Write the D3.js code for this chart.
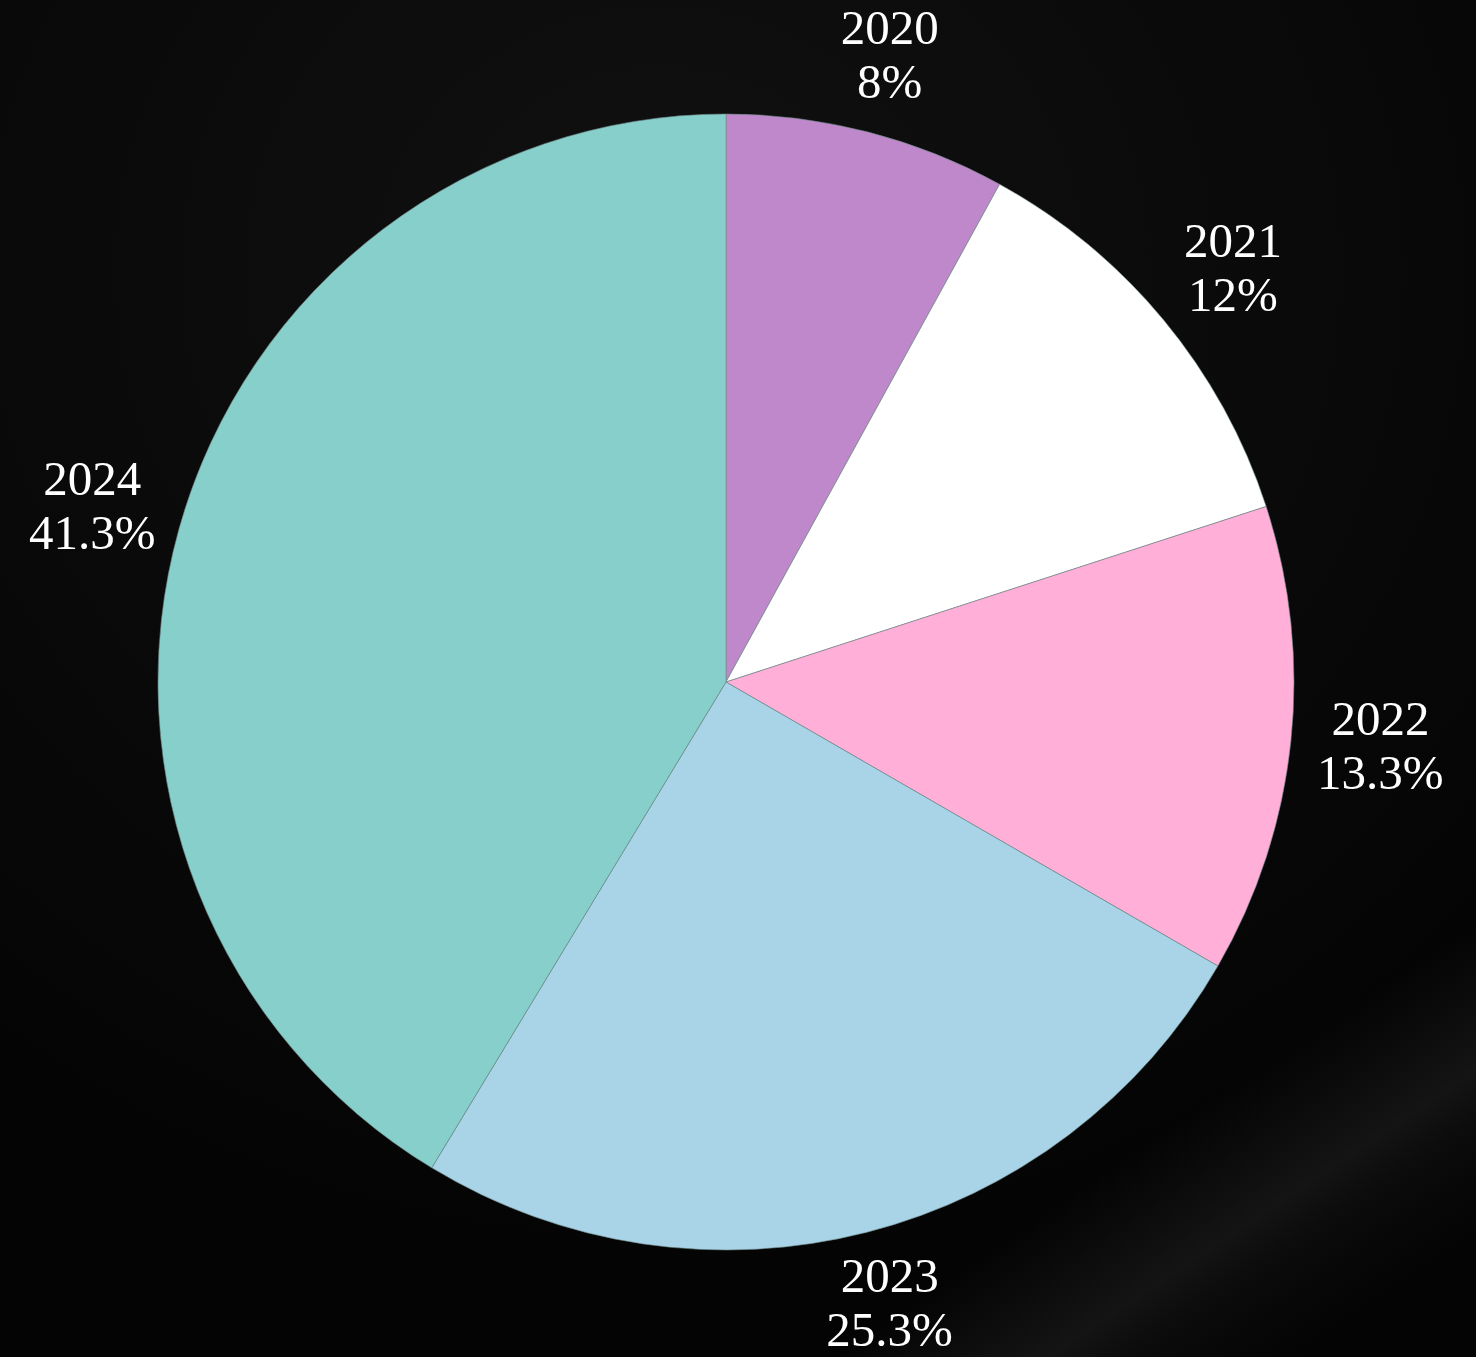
<!DOCTYPE html>
<html>
<head>
<meta charset="utf-8">
<script src="https://cdn.jsdelivr.net/npm/d3@7"></script>
<style>
  html, body { margin: 0; padding: 0; background: #050505; }
  svg { display: block; }
</style>
</head>
<body>
<svg id="chart"></svg>
<script>
// data
const years = ['2020', '2021', '2022', '2023', '2024'];
const counts = [6, 9, 10, 19, 31];
const sliceColors = ['#be88ca', '#ffffff', '#ffafd8', '#a9d4e8', '#86cfcb'];

const width = 1476, height = 1357;
const cx = 726, cy = 682, radius = 568;
const labelRx = 658, labelRy = 644;

const svg = d3.select('#chart')
  .attr('width', width)
  .attr('height', height);

// background: dark, faint glow near top and a soft fold bottom right
const defs = svg.append('defs');
const bg = defs.append('radialGradient').attr('id', 'bgGlow')
  .attr('cx', '45%').attr('cy', '20%').attr('r', '75%');
bg.append('stop').attr('offset', '0%').attr('stop-color', '#111111');
bg.append('stop').attr('offset', '55%').attr('stop-color', '#0a0a0a');
bg.append('stop').attr('offset', '100%').attr('stop-color', '#040404');

const fold = defs.append('linearGradient').attr('id', 'fold')
  .attr('gradientUnits', 'userSpaceOnUse')
  .attr('x1', 1190).attr('y1', 1115)
  .attr('x2', 1340).attr('y2', 1340);
fold.append('stop').attr('offset', '0%').attr('stop-color', '#151515').attr('stop-opacity', 0);
fold.append('stop').attr('offset', '45%').attr('stop-color', '#161616').attr('stop-opacity', 0.9);
fold.append('stop').attr('offset', '60%').attr('stop-color', '#121212').attr('stop-opacity', 0.6);
fold.append('stop').attr('offset', '100%').attr('stop-color', '#0a0a0a').attr('stop-opacity', 0);

svg.append('rect')
  .attr('width', width).attr('height', height)
  .attr('fill', 'url(#bgGlow)');

svg.append('rect')
  .attr('width', width).attr('height', height)
  .attr('fill', 'url(#fold)');

const graph = svg.append('g')
  .attr('transform', `translate(${cx},${cy})`);

const color = d3.scaleOrdinal().domain(years).range(sliceColors);
const total = d3.sum(counts);
const data = years.map((y, i) => ({ year: y, value: counts[i] }));

const pie = d3.pie().sort(null).value(d => d.value);
const arc = d3.arc().innerRadius(0).outerRadius(radius);

const arcs = pie(data);

graph.selectAll('path.slice')
  .data(arcs)
  .enter()
  .append('path')
  .attr('class', 'slice')
  .attr('d', arc)
  .attr('fill', d => color(d.data.year))
  .attr('stroke', '#6f8a88')
  .attr('stroke-width', 0.6);

const fmt = v => {
  const p = Math.round(v / total * 1000) / 10;
  return p + '%';
};

// label position on a slightly flattened ring around the pie
const labelPos = d => {
  const a = (d.startAngle + d.endAngle) / 2;
  return [Math.sin(a) * labelRx, -Math.cos(a) * labelRy];
};

const labels = graph.selectAll('text.label')
  .data(arcs)
  .enter()
  .append('text')
  .attr('class', 'label')
  .attr('text-anchor', 'middle')
  .attr('fill', '#ffffff')
  .style('font-family', '"Liberation Serif", "DejaVu Serif", serif')
  .style('font-size', '49px')
  .attr('transform', d => {
    const [x, y] = labelPos(d);
    return `translate(${x},${y})`;
  });

labels.append('tspan')
  .attr('x', 0)
  .attr('y', -14)
  .text(d => d.data.year);

labels.append('tspan')
  .attr('x', 0)
  .attr('y', 40)
  .text(d => fmt(d.data.value));
</script>
</body>
</html>
